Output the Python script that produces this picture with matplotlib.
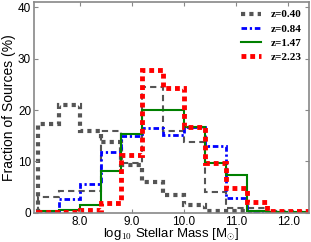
import numpy as np
import matplotlib
matplotlib.use("Agg")
import matplotlib.pyplot as plt

plt.rcParams['font.family'] = ['Liberation Sans', 'DejaVu Sans']
plt.rcParams['mathtext.fontset'] = 'cm'

# bin edges in log10 stellar mass
edges = [7.2, 7.6, 8.0, 8.4, 8.8, 9.2, 9.6, 10.0, 10.4, 10.8, 11.2, 11.6, 12.0, 12.4]

# fraction of sources (%) per bin
frac_all = [3.1, 4.2, 4.2, 15.9, 9.8, 24.5, 15.9, 13.8, 4.1, 1.0, 1.0, 0.1, 0.0]
frac_z040 = [17.3, 21.0, 16.0, 13.7, 9.3, 6.1, 3.5, 1.6, 0.4, 0.3, 0.2, 0.1, 0.1]
frac_z084 = [0.3, 2.8, 5.7, 11.9, 14.9, 16.5, 15.1, 16.7, 13.1, 3.0, 0.2, 0.1, 0.1]
frac_z147 = [0.3, 0.5, 1.5, 8.1, 15.3, 20.0, 20.0, 16.7, 9.7, 7.3, 0.4, 0.2, 0.2]
frac_z223 = [0.2, 0.2, 0.5, 2.0, 11.3, 27.7, 24.3, 16.7, 9.7, 4.8, 2.2, 0.3, 0.3]

labels = ['z=0.40', 'z=0.84', 'z=1.47', 'z=2.23']

fig = plt.figure(figsize=(3.11, 2.42), dpi=100)
ax = fig.add_axes([0.109, 0.12, 0.885, 0.872])

ax.stairs(frac_all, edges, color='#555555', lw=1.5, linestyle=(0, (3, 2)))
ax.stairs(frac_z040, edges, color='#555555', lw=3.0, linestyle=(0, (1, 1)), label=labels[0])
ax.stairs(frac_z084, edges, color='blue', lw=2.0, linestyle=(0, (2, 1, 0.8, 1)), label=labels[1])
ax.stairs(frac_z147, edges, color='green', lw=1.5, label=labels[2])
ax.stairs(frac_z223, edges, color='red', lw=3.5, linestyle=(0, (1, 0.8)), label=labels[3])

ax.set_xlim(7.12, 12.4)
ax.set_ylim(0, 41)
ax.set_xticks([8, 9, 10, 11, 12])
ax.set_xticklabels(['8.0', '9.0', '10.0', '11.0', '12.0'])
ax.set_yticks([0, 10, 20, 30, 40])
ax.tick_params(direction='in', top=True, right=True, labelsize=8.5, length=3,
               pad=2, color='#888888')
for s in ax.spines.values():
    s.set_color('#888888')
    s.set_linewidth(1.2)

ax.set_xlabel(r'log$_{10}$ Stellar Mass [M$_{\odot}$]', fontsize=9.5, labelpad=-1)
ax.set_ylabel('Fraction of Sources (%)', fontsize=10, labelpad=1)

ax.legend(loc='upper right', frameon=False, handlelength=1.8, borderaxespad=0.3,
          prop={'family': 'Liberation Serif', 'weight': 'bold', 'size': 8}, labelspacing=0.4)

fig.savefig('out.png', dpi=100)
